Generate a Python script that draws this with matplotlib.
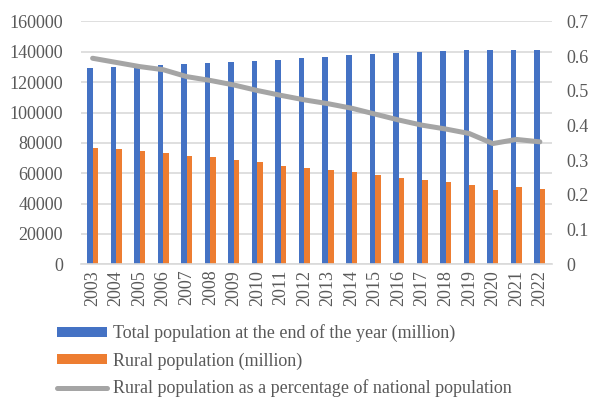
import numpy as np
import matplotlib.pyplot as plt

# chart values
years = ['2003', '2004', '2005', '2006', '2007', '2008', '2009', '2010', '2011', '2012',
         '2013', '2014', '2015', '2016', '2017', '2018', '2019', '2020', '2021', '2022']
total_pop = [129227, 129988, 130756, 131448, 132129, 132802, 133450, 134091, 134916, 135922,
             136726, 137646, 138326, 139232, 140011, 140541, 141008, 141212, 141260, 141175]
rural_pop = [76850, 75700, 74540, 73160, 71500, 70400, 68940, 67110, 65000, 63700,
             62300, 60900, 59030, 57100, 55700, 54200, 52500, 49100, 50900, 49800]
rural_share = [0.594, 0.582, 0.570, 0.561, 0.541, 0.530, 0.517, 0.501, 0.487, 0.474,
               0.463, 0.450, 0.433, 0.416, 0.401, 0.390, 0.377, 0.348, 0.360, 0.353]

left_ticks = [0, 20000, 40000, 60000, 80000, 100000, 120000, 140000, 160000]
right_ticks = [0, 0.1, 0.2, 0.3, 0.4, 0.5, 0.6, 0.7]

labels = ['Total population at the end of the year (million)',
          'Rural population (million)',
          'Rural population as a percentage of national population']

plt.rcParams['font.family'] = ['Liberation Serif', 'DejaVu Serif']
txt = '#595959'
grid = '#D9D9D9'

fig = plt.figure(figsize=(5.9, 3.98), dpi=100)
ax = fig.add_axes([0.137, 0.336, 0.798, 0.610])
ax2 = ax.twinx()

x = np.arange(len(years))
w = 0.235
b1 = ax.bar(x - w / 2, total_pop, w, color='#4472C4', zorder=2)
b2 = ax.bar(x + w / 2, rural_pop, w, color='#ED7D31', zorder=2)
ln, = ax2.plot(x, rural_share, color='#A5A5A5', lw=3.6, solid_capstyle='round',
               solid_joinstyle='round')

ax.set_xlim(-0.5, len(years) - 0.5)
ax.set_ylim(0, 160000)
ax2.set_ylim(0, 0.7)
ax.set_yticks(left_ticks)
ax.set_yticklabels([str(v) for v in left_ticks])
ax2.set_yticks(right_ticks)
ax2.set_yticklabels(['0'] + ['%.1f' % v for v in right_ticks[1:]])
ax.set_xticks(x)
ax.set_xticklabels(years, rotation=90)

ax.yaxis.grid(True, color=grid, lw=1.2, zorder=0)
ax.set_axisbelow(True)
for a in (ax, ax2):
    for s in a.spines.values():
        s.set_visible(False)
    a.tick_params(length=0, labelsize=13, colors=txt)
ax.spines['bottom'].set_visible(True)
ax.spines['bottom'].set_color(grid)
ax.spines['bottom'].set_linewidth(1.2)
ax.tick_params(axis='y', pad=13)
ax.tick_params(axis='x', pad=4)
ax2.tick_params(axis='y', pad=10.5)

fig.legend([b1, b2, ln], labels, loc='upper left', bbox_to_anchor=(0.096, 0.185),
           frameon=False, fontsize=13, labelcolor=txt, borderpad=0, borderaxespad=0,
           handlelength=2.77, handleheight=0.5, handletextpad=0.35, labelspacing=0.55)

fig.savefig('out.png', dpi=100)
